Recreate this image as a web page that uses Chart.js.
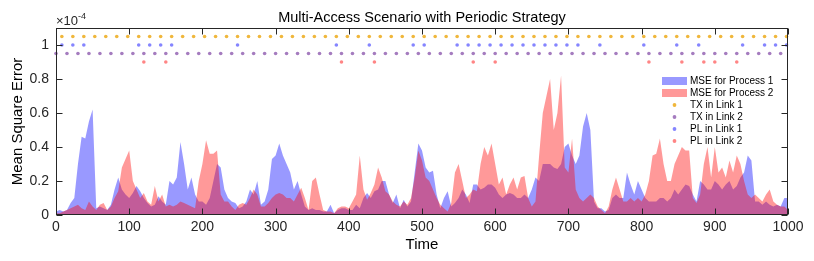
<!DOCTYPE html>
<html>
<head>
<meta charset="utf-8">
<script src="https://cdn.jsdelivr.net/npm/chart.js@4.4.0/dist/chart.umd.min.js"></script>
<style>
  html, body { margin: 0; padding: 0; background: #fff; }
</style>
</head>
<body>
<canvas id="mse" width="814" height="261"></canvas>
<script>
// MSE values (x 1e-4), one sample every 5 time steps, t = 0..1000
var timeStep = 5;
var mseProcess1 = [
  0.02,0.03,0.02,0.03,0.07,0.10,0.30,0.46,0.45,0.55,
  0.62,0.04,0.05,0.04,0.03,0.06,0.15,0.22,0.15,0.12,
  0.10,0.13,0.17,0.14,0.10,0.07,0.05,0.06,0.11,0.08,
  0.06,0.20,0.18,0.22,0.43,0.30,0.15,0.22,0.12,0.08,
  0.08,0.06,0.10,0.20,0.30,0.28,0.15,0.10,0.08,0.07,
  0.04,0.05,0.08,0.15,0.12,0.20,0.06,0.08,0.15,0.33,
  0.35,0.42,0.35,0.30,0.25,0.15,0.20,0.12,0.05,0.03,
  0.04,0.03,0.03,0.02,0.02,0.06,0.01,0.03,0.04,0.04,
  0.03,0.03,0.06,0.04,0.10,0.13,0.10,0.14,0.15,0.20,
  0.20,0.12,0.07,0.12,0.04,0.09,0.05,0.08,0.25,0.42,
  0.38,0.28,0.25,0.26,0.12,0.04,0.10,0.14,0.05,0.07,
  0.10,0.15,0.12,0.07,0.18,0.18,0.15,0.16,0.18,0.18,
  0.16,0.12,0.10,0.12,0.13,0.12,0.10,0.10,0.12,0.10,
  0.15,0.22,0.20,0.30,0.30,0.30,0.28,0.27,0.30,0.40,
  0.42,0.35,0.30,0.35,0.52,0.60,0.50,0.08,0.04,0.04,
  0.02,0.03,0.10,0.12,0.10,0.10,0.25,0.18,0.12,0.20,
  0.15,0.10,0.08,0.08,0.08,0.10,0.10,0.08,0.10,0.15,
  0.12,0.15,0.18,0.17,0.12,0.08,0.20,0.18,0.15,0.15,
  0.20,0.18,0.15,0.18,0.20,0.15,0.17,0.22,0.25,0.35,
  0.32,0.08,0.08,0.06,0.08,0.06,0.05,0.06,0.05,0.10,
  0.10
];
var mseProcess2 = [
  0.01,0.01,0.02,0.03,0.04,0.05,0.06,0.04,0.03,0.08,
  0.05,0.03,0.06,0.07,0.03,0.05,0.10,0.14,0.28,0.33,
  0.38,0.20,0.15,0.10,0.13,0.08,0.06,0.17,0.08,0.12,
  0.05,0.06,0.05,0.06,0.08,0.07,0.06,0.05,0.04,0.20,
  0.30,0.44,0.36,0.36,0.38,0.12,0.08,0.08,0.05,0.03,
  0.06,0.07,0.06,0.10,0.15,0.12,0.05,0.05,0.07,0.10,
  0.12,0.13,0.12,0.10,0.10,0.08,0.12,0.16,0.10,0.03,
  0.20,0.22,0.12,0.03,0.02,0.02,0.01,0.04,0.05,0.05,
  0.04,0.08,0.12,0.35,0.15,0.09,0.13,0.18,0.28,0.22,
  0.14,0.12,0.08,0.06,0.05,0.08,0.06,0.10,0.22,0.38,
  0.32,0.22,0.20,0.15,0.10,0.06,0.04,0.02,0.07,0.25,
  0.30,0.20,0.10,0.12,0.15,0.14,0.30,0.40,0.35,0.42,
  0.30,0.18,0.22,0.12,0.18,0.22,0.15,0.22,0.23,0.10,
  0.05,0.08,0.35,0.60,0.70,0.80,0.50,0.60,0.82,0.28,
  0.25,0.45,0.15,0.10,0.08,0.10,0.12,0.10,0.05,0.03,
  0.01,0.05,0.15,0.22,0.15,0.08,0.08,0.10,0.08,0.10,
  0.08,0.12,0.20,0.35,0.36,0.45,0.30,0.20,0.20,0.30,
  0.35,0.40,0.38,0.38,0.10,0.07,0.12,0.30,0.40,0.22,
  0.40,0.25,0.28,0.22,0.32,0.25,0.35,0.30,0.20,0.12,
  0.10,0.12,0.10,0.08,0.12,0.15,0.08,0.06,0.05,0.05,
  0.03
];

// event times
var txLink1 = [8,23,38,53,68,83,98,113,128,143,158,173,188,203,218,233,248,263,278,293,308,323,338,353,368,383,398,413,428,443,458,473,488,503,518,533,548,563,578,593,608,623,638,653,668,683,698,713,728,743,758,773,788,803,818,833,848,863,878,893,908,923,938,953,968,983,998];
var txLink2 = [0,15,30,45,60,75,90,105,120,135,150,165,180,195,210,225,240,255,270,285,300,315,330,345,360,375,390,405,420,435,450,465,480,495,510,525,540,555,570,585,600,615,630,645,660,675,690,705,720,735,750,765,780,795,810,825,840,855,870,885,900,915,930,945,960,975,990];
var plLink1 = [8,23,38,113,128,143,158,248,383,428,488,503,548,563,578,593,608,623,638,653,668,683,698,713,743,803,848,878,938,968,983,998];
var plLink2 = [120,150,390,435,570,600,810,855,885,900,930];

// marker rows (x 1e-4)
var rowTx1 = 1.05, rowPl1 = 1.0, rowTx2 = 0.95, rowPl2 = 0.9;

var xTicks = [0,100,200,300,400,500,600,700,800,900,1000];
var yTicks = [0,0.2,0.4,0.6,0.8,1];

var blueFill = 'rgba(0,0,255,0.4)';
var redFill = 'rgba(255,0,0,0.4)';
var colTx1 = '#f0b73c', colTx2 = '#a57cbf', colPl1 = '#8585ff', colPl2 = '#ff8585';
var axisColor = '#262626';
var fontFam = '"Liberation Sans", Arial, Helvetica, sans-serif';

function series(vals) {
  return vals.map(function (v, i) { return { x: i * timeStep, y: v }; });
}
function row(times, y) {
  return times.map(function (t) { return { x: t, y: y }; });
}
function dots(label, times, y, color) {
  return {
    label: label, data: row(times, y), showLine: false,
    pointRadius: 1.8, pointBorderWidth: 0, pointBackgroundColor: color,
    borderColor: color, backgroundColor: color, clip: false
  };
}

var legendItems = [
  { kind: 'area', color: blueFill, label: 'MSE for Process 1' },
  { kind: 'area', color: redFill, label: 'MSE for Process 2' },
  { kind: 'dot', color: colTx1, label: 'TX in Link 1' },
  { kind: 'dot', color: colTx2, label: 'TX in Link 2' },
  { kind: 'dot', color: colPl1, label: 'PL in Link 1' },
  { kind: 'dot', color: colPl2, label: 'PL in Link 2' }
];

// frame, inward ticks, titles, legend
var matlabLook = {
  id: 'matlabLook',
  afterDraw: function (chart) {
    var ctx = chart.ctx, a = chart.chartArea;
    var xs = chart.scales.x, ys = chart.scales.y;
    ctx.save();
    ctx.strokeStyle = axisColor;
    ctx.lineWidth = 1;
    var L = Math.round(a.left) + 0.5, R = Math.round(a.right) - 0.5;
    var T = Math.round(a.top) + 0.5, B = Math.round(a.bottom) - 0.5;
    ctx.strokeRect(L, T, R - L, B - T);
    ctx.beginPath();
    xTicks.forEach(function (v) {
      var px = Math.round(xs.getPixelForValue(v)) + 0.5;
      ctx.moveTo(px, B); ctx.lineTo(px, B - 6);
      ctx.moveTo(px, T); ctx.lineTo(px, T + 6);
    });
    yTicks.forEach(function (v) {
      var py = Math.round(ys.getPixelForValue(v)) + 0.5;
      ctx.moveTo(L, py); ctx.lineTo(L + 6, py);
      ctx.moveTo(R, py); ctx.lineTo(R - 6, py);
    });
    ctx.stroke();

    ctx.fillStyle = '#000';
    ctx.textAlign = 'center';
    ctx.textBaseline = 'middle';
    ctx.font = '14.5px ' + fontFam;
    ctx.fillText('Multi-Access Scenario with Periodic Strategy', (a.left + a.right) / 2, 18);
    ctx.font = '15px ' + fontFam;
    ctx.fillText('Time', (a.left + a.right) / 2, 245);
    ctx.save();
    ctx.translate(18, (a.top + a.bottom) / 2);
    ctx.rotate(-Math.PI / 2);
    ctx.fillText('Mean Square Error', 0, 0);
    ctx.restore();

    // exponent label
    ctx.fillStyle = axisColor;
    ctx.textAlign = 'left';
    ctx.textBaseline = 'alphabetic';
    ctx.font = '13px ' + fontFam;
    ctx.fillText('\u00d710', 56, 25);
    var w = ctx.measureText('\u00d710').width;
    ctx.font = '9px ' + fontFam;
    ctx.fillText('-4', 56 + w, 19);

    // legend
    ctx.font = '10px ' + fontFam;
    ctx.textBaseline = 'middle';
    legendItems.forEach(function (it, i) {
      var y = 81 + i * 12;
      if (it.kind === 'area') {
        ctx.fillStyle = it.color;
        ctx.fillRect(662, y - 4, 25, 8);
      } else {
        ctx.fillStyle = it.color;
        ctx.beginPath();
        ctx.arc(674.5, y, 1.9, 0, Math.PI * 2);
        ctx.fill();
      }
      ctx.fillStyle = '#000';
      ctx.fillText(it.label, 690, y);
    });
    ctx.restore();
  }
};

var ctx = document.getElementById('mse');
var chart = new Chart(ctx, {
  type: 'line',
  data: {
    datasets: [
      dots('TX in Link 1', txLink1, rowTx1, colTx1),
      dots('TX in Link 2', txLink2, rowTx2, colTx2),
      dots('PL in Link 1', plLink1, rowPl1, colPl1),
      dots('PL in Link 2', plLink2, rowPl2, colPl2),
      {
        label: 'MSE for Process 2', data: series(mseProcess2),
        fill: 'origin', backgroundColor: redFill, borderWidth: 0,
        borderColor: 'rgba(0,0,0,0)', pointRadius: 0, tension: 0
      },
      {
        label: 'MSE for Process 1', data: series(mseProcess1),
        fill: 'origin', backgroundColor: blueFill, borderWidth: 0,
        borderColor: 'rgba(0,0,0,0)', pointRadius: 0, tension: 0
      }
    ]
  },
  options: {
    responsive: false,
    animation: false,
    devicePixelRatio: 1,
    layout: { padding: { left: 0, right: 26, top: 28, bottom: 0 } },
    plugins: { legend: { display: false }, tooltip: { enabled: false } },
    scales: {
      x: {
        type: 'linear', min: 0, max: 1000,
        afterBuildTicks: function (s) { s.ticks = xTicks.map(function (v) { return { value: v }; }); },
        afterFit: function (s) { s.height = 46; },
        ticks: {
          color: axisColor, font: { size: 14, family: fontFam }, padding: 4, maxRotation: 0,
          callback: function (v) { return String(v); }
        },
        grid: { display: false, drawTicks: false },
        border: { display: false }
      },
      y: {
        type: 'linear', min: 0, max: 1.1,
        afterBuildTicks: function (s) { s.ticks = yTicks.map(function (v) { return { value: v }; }); },
        afterFit: function (s) { s.width = 56; },
        ticks: {
          color: axisColor, font: { size: 14, family: fontFam }, padding: 7,
          callback: function (v) { return String(Math.round(v * 10) / 10); }
        },
        grid: { display: false, drawTicks: false },
        border: { display: false }
      }
    }
  },
  plugins: [matlabLook]
});
</script>
</body>
</html>
